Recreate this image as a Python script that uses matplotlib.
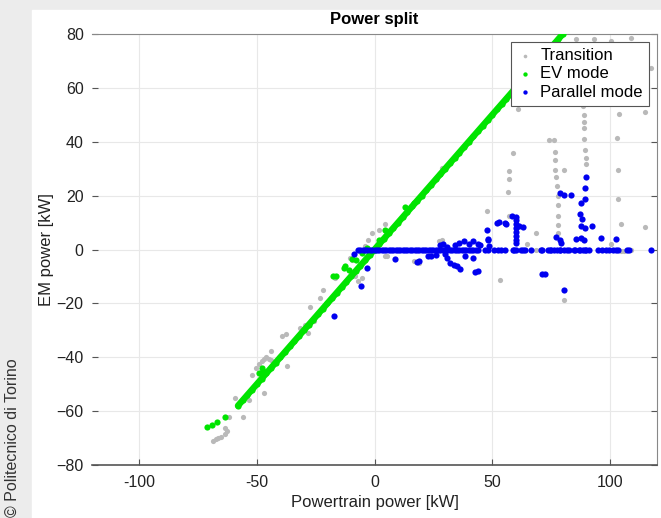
import matplotlib
matplotlib.use('Agg')
import matplotlib.pyplot as plt
from matplotlib.patches import Rectangle

plt.rcParams['font.family'] = ['Liberation Sans', 'DejaVu Sans']

# EV mode (green) - main strand (first 70 points) plus a few stray points
ev_x = [-58, -56, -54, -52, -50, -48, -46, -44, -42, -40, -38, -36, -34, -32, -30,
        -28, -26, -24, -22, -20, -18, -16, -14, -12, -10, -8, -6, -4, -2, 0,
        2, 4, 6, 8, 10, 12, 14, 16, 18, 20, 22, 24, 26, 28, 30, 32, 34, 36, 38,
        40, 42, 44, 46, 48, 50, 52, 54, 56, 58, 60, 62, 64, 66, 68, 70, 72, 74,
        76, 78, 80,
        -71, -69, -67, -63.4, -49, -48, -47.5, -17.8, -16.5, -13, -12.5, -11,
        -9.4, -8, -5.4, -3, 1.7, 4.5, 13, 16.6]
ev_y = [-58, -56, -54, -52, -50, -48, -46, -44, -42, -40, -38, -36, -34, -32, -30,
        -28, -26, -24, -22, -20, -18, -16, -14, -12, -10, -8, -6, -4, -2, 0,
        2, 4, 6, 8, 10, 12, 14, 16, 18, 20, 22, 24, 26, 28, 30, 32, 34, 36, 38,
        40, 42, 44, 46, 48, 50, 52, 54, 56, 58, 60, 62, 64, 66, 68, 70, 72, 74,
        76, 78, 80,
        -66, -65, -64, -62, -46, -44, -45, -9.7, -10, -7, -6.2, -7.5,
        -3.4, -4, -1.2, 0.5, 3.7, 7.4, 15.6, 17.4]
n_ev_core = 70

# Transition (gray)
tr_x = [-68.7, -67.5, -66.5, -65, -63.5, -62.5, -63.5, -62, -59.3, -55.7, -53.3,
        -52.2, -50.2, -49, -48, -47, -46, -45, -44, -47, -44, -39.5, -37.8, -37,
        -31.6, -29.5, -28.1, -27.4, -25.5, -23, -21.7, -16.7, -10.3, -9.4, -8.2,
        -6.8, -5.4, -4, -2.6, -1.1, 4.5, 1.7, 4.5, 5.1,
        16.6, 18.7, 27.2, 28.5, 28.6, 47.7, 53.5, 57, 56.7, 57.3, 57.3, 58.7,
        60.9, 64.8, 68.4, 68.4, 70.5, 80.4,
        74, 76.4, 76.6, 76.6, 76.6, 80.4, 77.2, 77.6, 77.8, 77.8, 77.9, 78, 78,
        88.7, 88.9, 89, 89.2, 89, 89.5, 90, 90,
        85.4, 93.2, 100.3, 108.8, 117.3,
        103.8, 114.8, 102.8, 103.4, 103.4, 104.8, 114.9, 100.3, 104.5, 106, 109]
tr_y = [-71, -70.5, -70, -69.5, -68.5, -67.5, -66.4, -62, -55.2, -62, -55.8,
        -46.5, -44, -42.5, -41.5, -40.5, -40, -40.5, -41, -53.3, -37.8, -32.2,
        -31.3, -43.4, -29, -28, -31, -21.3, -26.7, -18, -15, -10.5, -3.1, -4,
        -9.9, -11.8, -10.4, 1.2, 3.7, 6.3, -2.5, 7.4, 9.3, -2.5,
        -4.3, -5, 3.1, 3.7, 30.4, 14.3, -11.5, 12.4, 21.3, 26, 29, 35.7,
        52.1, 1.9, 6, 0, 0, -18.6,
        40.7, 40.7, 36.3, 33.2, 29.5, 29.5, 27, 23.6, 20, 16.4, 12.6, 9, 6,
        53.3, 50, 47.5, 45, 41, 37, 34, 31.6,
        78.1, 78.1, 77.5, 78.4, 67.2,
        50.2, 51.1, 41.5, 29.4, 18.9, 9.3, 8.4, 1.9, -0.5, -0.5, 0]

# Parallel mode (blue)
par_x = [-7, -6, -5, -4, -3, -2, -1, 0, 1, 2, 3, 4, 5, 6, 7, 8, 9, 10, 11, 12,
         13, 14, 15, 16, 17, 18, 19, 20, 21, 22, 23, 24, 25, 26, 27, 28, 29, 30,
         31, 32, 33, 34, 35, 36, 37, 38, 39, 40, 41, 42, 43, 44,
         47, 48.2, 50.6, 52.3, 53.9, 55.3, 58.7, 59.1, 60.1, 62.3, 62.9, 63.8,
         66.4, 70.7, 71.2, 73.6, 74.7, 75, 76.2, 77.6, 78.6, 79, 80.4, 81.8,
         82.8, 84.7, 85, 86.8, 87.5, 88.5, 89.6, 90, 91.1, 95, 96.5, 98.4, 99.8,
         101.3, 102.4, 103.4, 107.2, 108.1, 117.3,
         -8.9, -3.3, -5.7, -17.4, 8.8, 18, 19, 22.6, 30.8, 32.2, 33.6, 36.2, 35,
         42.8, 44, 38.3, 41.7, 34, 36, 38, 40, 42, 44, 45, 48.2, 48.5, 47.8,
         48.2, 28, 30, 26, 24, 29, 31,
         52, 53, 55.5, 56, 58.2, 59.9, 60, 60, 60, 60, 60, 60, 60, 61.3, 63.2,
         71.2, 72.3, 80.7,
         78.6, 80.7, 83.5, 90, 89.6, 89.4, 87.8, 87.2, 88.2, 87.9, 89.4, 92.5,
         87.8, 89, 85.4, 76.9, 78.6, 79.4, 96, 102.4]
par_y = [0] * 52 + [0] * 43 + [
         -1.6, -6.8, -13.4, -24.8, -3.7, -4.6, -4.4, -2.5, -3.1, -5, -5.6, -7.2,
         -6, -8.4, -8.1, -2.5, -3.1, 1.6, 2.5, 3, 2, 3, 2.2, 1.5, 3.7, 1.2, 7.4,
         4, 1.5, -1.5, -2, -2.5, 2, 1,
         10, 10.2, 9.8, 9.5, 12.4, 12.2, 11, 9.5, 8, 6.5, 5, 3.5, 2.5, 8.9, 8.5,
         -9, -9, -15.1,
         21.1, 20.2, 20.3, 26.9, 23, 18.6, 17.4, 13, 11.5, 8.7, 8.1, 8.7,
         4.3, 3.7, 4, 4.6, 3.7, 2.5, 4.3, 4]

x_ticks = [-100, -50, 0, 50, 100]
x_labels = ['-100', '-50', '0', '50', '100']
y_ticks = [-80, -60, -40, -20, 0, 20, 40, 60, 80]
y_labels = ['\u221280', '\u221260', '\u221240', '\u221220', '0', '20', '40', '60', '80']

GREEN = '#00e400'
BLUE = '#0000f0'

fig = plt.figure(figsize=(6.61, 5.18), dpi=100, facecolor='#ececec')
# white page area of the screenshot
fig.patches.append(Rectangle((32 / 661, 0), 1, (518 - 10) / 518,
                             transform=fig.transFigure, color='white', zorder=-10))
fig.text(12 / 661, 1 / 518, '\u00a9 Politecnico di Torino', rotation=90,
         fontsize=11.5, color='#333333', ha='center', va='bottom')

ax = fig.add_axes([92 / 661, 53 / 518, 565 / 661, 431 / 518])
ax.scatter(tr_x, tr_y, s=14, color='#b9b9b9', label='Transition', zorder=2, linewidths=0)
# dense strand of EV-mode samples
ax.plot(ev_x[:n_ev_core], ev_y[:n_ev_core], color=GREEN, lw=4.6,
        solid_capstyle='round', zorder=3)
ax.scatter(ev_x, ev_y, s=20, color=GREEN, label='EV mode', zorder=3, linewidths=0)
ax.scatter(par_x, par_y, s=20, color=BLUE, label='Parallel mode', zorder=4, linewidths=0)

ax.set_xlim(-120, 120)
ax.set_ylim(-80, 80)
ax.set_xticks(x_ticks, x_labels)
ax.set_yticks(y_ticks, y_labels)
ax.tick_params(direction='in', length=4, labelsize=11.5, colors='#555555',
               labelcolor='#222222', pad=7)
ax.tick_params(axis='y', right=True, pad=6)
ax.grid(True, color='#e8e8e8', linewidth=0.8)
ax.set_axisbelow(True)
ax.spines['left'].set_visible(False)
for s in ['top', 'right']:
    ax.spines[s].set_color('#888888')
ax.spines['bottom'].set_color('#555555')
ax.spines['bottom'].set_linewidth(1.2)

ax.set_xlabel('Powertrain power [kW]', fontsize=12, color='#222222', labelpad=4)
ax.set_ylabel('EM power [kW]', fontsize=12, color='#222222', labelpad=2)
ax.set_title('Power split', fontsize=12, fontweight='bold', pad=7)

leg = ax.legend(loc='upper right', fontsize=12, fancybox=False, framealpha=1,
                edgecolor='#555555', markerscale=0.7, handletextpad=0.4,
                handlelength=1.0, borderaxespad=0.5, labelspacing=0.2,
                borderpad=0.35)
leg.get_frame().set_linewidth(0.8)

plt.savefig('out.png', dpi=100, facecolor=fig.get_facecolor())
